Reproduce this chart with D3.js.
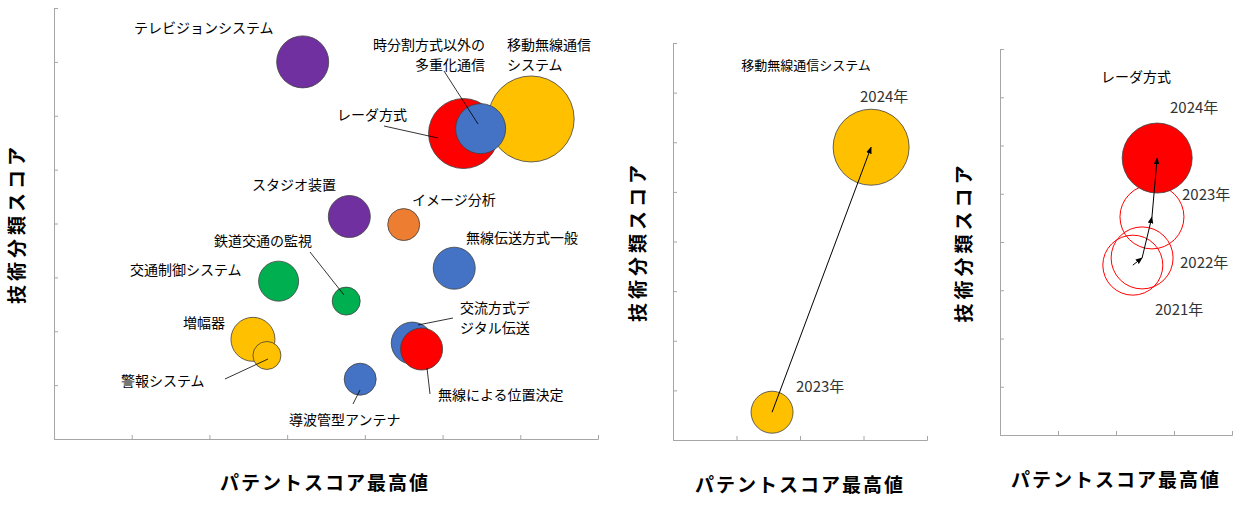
<!DOCTYPE html>
<html><head><meta charset="utf-8">
<script src="https://cdn.jsdelivr.net/npm/d3@7"></script>
<style>body{margin:0;background:#fff}text{font-family:"Noto Sans CJK JP","Noto Sans",sans-serif}</style>
</head><body><svg id="c" width="1244" height="507"></svg>
<script>
// ---- data ----
const names = ["テレビジョンシステム","移動無線通信システム","レーダ方式","時分割方式以外の多重化通信","スタジオ装置","イメージ分析","無線伝送方式一般","交通制御システム","鉄道交通の監視","増幅器","警報システム","導波管型アンテナ","交流方式デジタル伝送","無線による位置決定"];
const xVals = [3.2,6.14,5.27,5.49,3.8,4.5,5.15,2.89,3.76,2.56,2.74,3.94,4.61,4.73];
const yVals = [7.0,5.94,5.67,5.76,4.13,3.98,3.17,2.93,2.56,1.85,1.55,1.11,1.78,1.67];
const sizes = [26,43,35,25,21,16,21,20,14,22,14,16,21,21];
const colors = ["#7030a0","#ffc000","#ff0000","#4472c4","#7030a0","#ed7d31","#4472c4","#00b050","#00b050","#ffc000","#ffc000","#4472c4","#4472c4","#ff0000"];
const mobileYears = ["2023年","2024年"];
const mobileX = [1.56,3.12];
const mobileY = [0.56,5.9];
const mobileSize = [21,38];
const radarYears = ["2021年","2022年","2023年","2024年"];
const radarX = [2.29,2.45,2.62,2.71];
const radarY = [3.52,3.67,4.52,5.74];
const radarSize = [30,31,32,35];
const xTitle = "パテントスコア最高値", yTitle = "技術分類スコア";

const svg = d3.select("#c");
svg.append("defs").append("marker").attr("id","ah").attr("viewBox","0 0 10 10").attr("refX",9).attr("refY",5)
  .attr("markerWidth",7).attr("markerHeight",7).attr("orient","auto")
  .append("path").attr("d","M0,1L10,5L0,9z").attr("fill","#000");

function panel(x0,x1,y0,y1,xmax,ymax,xt,yt,xtx,xty,ytx){
  const x=d3.scaleLinear().domain([0,xmax]).range([x0,x1]);
  const y=d3.scaleLinear().domain([0,ymax]).range([y1,y0]);
  const gx=svg.append("g").attr("transform",`translate(0,${y1})`).call(d3.axisBottom(x).ticks(xmax).tickSize(-4).tickFormat(""));
  const gy=svg.append("g").attr("transform",`translate(${x0},0)`).call(d3.axisLeft(y).ticks(ymax).tickSize(-4).tickFormat(""));
  [gx,gy].forEach(g=>{g.selectAll("path,line").attr("stroke","#a6a6a6");});
  gx.selectAll(".tick").filter(d=>d===0).remove();
  gy.selectAll(".tick").filter(d=>d===0).remove();
  svg.append("text").attr("x",xtx).attr("y",xty).attr("text-anchor","middle").attr("font-size",19).attr("font-weight","bold").attr("letter-spacing",2).text(xt);
  svg.append("text").attr("transform",`translate(${ytx},${(y0+y1)/2}) rotate(-90)`).attr("text-anchor","middle").attr("dy","0.35em").attr("font-size",19).attr("font-weight","bold").attr("letter-spacing",4).text(yt);
  return {x,y};
}

// ---- left panel ----
const L=panel(54,598,8,439,7,8,xTitle,yTitle,325,490,17);
const bubbles=names.map((n,i)=>({n,x:xVals[i],y:yVals[i],r:sizes[i],c:colors[i]}));
svg.append("g").selectAll("circle").data(bubbles).join("circle")
  .attr("cx",d=>L.x(d.x)).attr("cy",d=>L.y(d.y)).attr("r",d=>d.r)
  .attr("fill",d=>d.c).attr("stroke","#404040").attr("stroke-width",0.8);

const labels=[
 {t:["テレビジョンシステム"],x:134,y:33,a:"start"},
 {t:["時分割方式以外の","多重化通信"],x:485,y:50,a:"end",l:[444,71,478,124]},
 {t:["移動無線通信","システム"],x:507,y:50,a:"start"},
 {t:["レーダ方式"],x:337,y:120,a:"start",l:[384,126,438,138]},
 {t:["スタジオ装置"],x:252,y:190,a:"start"},
 {t:["イメージ分析"],x:412,y:205,a:"start"},
 {t:["無線伝送方式一般"],x:466,y:243,a:"start"},
 {t:["鉄道交通の監視"],x:214,y:246,a:"start",l:[310,252,344,295]},
 {t:["交通制御システム"],x:130,y:275,a:"start"},
 {t:["増幅器"],x:183,y:328,a:"start"},
 {t:["交流方式デ","ジタル伝送"],x:460,y:313,a:"start",l:[453,318,418,325]},
 {t:["警報システム"],x:121,y:386,a:"start",l:[225,379,268,359]},
 {t:["導波管型アンテナ"],x:289,y:425,a:"start",l:[353,404,360,390]},
 {t:["無線による位置決定"],x:438,y:400,a:"start",l:[430,394,427,368]}
];
labels.forEach(lb=>{
  if(lb.l) svg.append("line").attr("x1",lb.l[0]).attr("y1",lb.l[1]).attr("x2",lb.l[2]).attr("y2",lb.l[3]).attr("stroke","#000").attr("stroke-width",0.8);
  lb.t.forEach((s,j)=>svg.append("text").attr("x",lb.x).attr("y",lb.y+j*20).attr("text-anchor",lb.a).attr("font-size",14).text(s));
});

// ---- middle panel ----
const M=panel(673,927,43,440,4,8,xTitle,yTitle,800,492,638);
svg.append("text").attr("x",806).attr("y",70).attr("text-anchor","middle").attr("font-size",13).text("移動無線通信システム");
mobileYears.forEach((yr,i)=>{
  svg.append("circle").attr("cx",M.x(mobileX[i])).attr("cy",M.y(mobileY[i])).attr("r",mobileSize[i]).attr("fill","#ffc000").attr("stroke","#404040").attr("stroke-width",0.8);
});
svg.append("line").attr("x1",M.x(mobileX[0])).attr("y1",M.y(mobileY[0])).attr("x2",M.x(mobileX[1])).attr("y2",M.y(mobileY[1])).attr("stroke","#000").attr("stroke-width",1).attr("marker-end","url(#ah)");
svg.append("text").attr("x",796).attr("y",392).attr("font-size",15).attr("fill","#333").text(mobileYears[0]);
svg.append("text").attr("x",860).attr("y",102).attr("font-size",15).attr("fill","#333").text(mobileYears[1]);

// ---- right panel ----
const R=panel(1000,1232,49,435,4,8,xTitle,yTitle,1116,487,964);
svg.append("text").attr("x",1136).attr("y",82).attr("text-anchor","middle").attr("font-size",14).text("レーダ方式");
radarYears.forEach((yr,i)=>{
  const last=i===radarYears.length-1;
  svg.append("circle").attr("cx",R.x(radarX[i])).attr("cy",R.y(radarY[i])).attr("r",radarSize[i])
    .attr("fill",last?"#ff0000":"none").attr("stroke",last?"#404040":"#ff0000").attr("stroke-width",last?0.8:1);
});
for(let i=0;i<radarYears.length-1;i++){
  svg.append("line").attr("x1",R.x(radarX[i])).attr("y1",R.y(radarY[i])).attr("x2",R.x(radarX[i+1])).attr("y2",R.y(radarY[i+1])).attr("stroke","#000").attr("stroke-width",1).attr("marker-end","url(#ah)");
}
const rl=[[1155,315],[1180,268],[1182,200],[1170,113]];
radarYears.forEach((yr,i)=>svg.append("text").attr("x",rl[i][0]).attr("y",rl[i][1]).attr("font-size",15).attr("fill","#333").text(yr));
</script></body></html>
